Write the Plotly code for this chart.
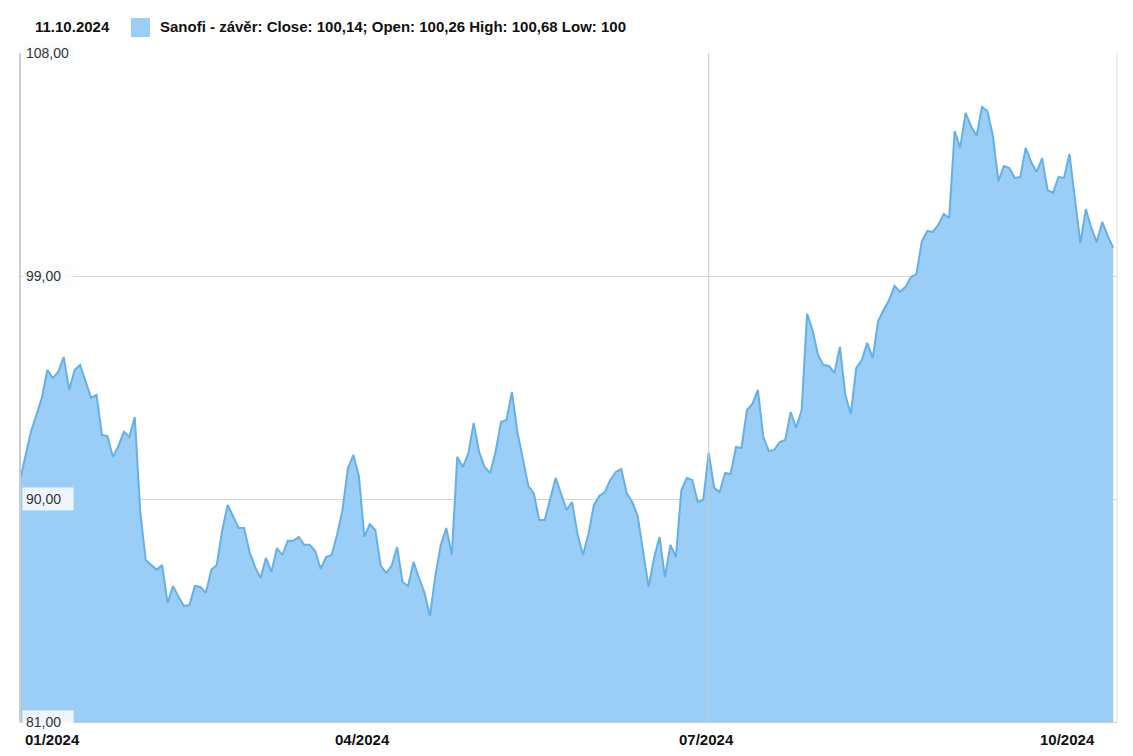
import pandas as pd
import plotly.graph_objects as go

# Trading days (Euronext Paris) 2 Jan 2024 - 11 Oct 2024
holidays = ["2024-01-01", "2024-03-29", "2024-04-01", "2024-05-01"]
dates = [d.strftime("%Y-%m-%d") for d in pd.bdate_range("2024-01-02", "2024-10-11")
         if d.strftime("%Y-%m-%d") not in holidays]

close = [
    90.77, 91.78, 92.71, 93.39, 94.08, 95.21, 94.88, 95.13, 95.73, 94.40,
    95.21, 95.41, 94.72, 94.08, 94.20, 92.58, 92.54, 91.70, 92.14, 92.71,
    92.50, 93.31, 89.48, 87.54, 87.34, 87.14, 87.34, 85.80, 86.49, 86.05,
    85.68, 85.72, 86.49, 86.45, 86.21, 87.14, 87.34, 88.75, 89.76, 89.32,
    88.83, 88.83, 87.86, 87.26, 86.81, 87.62, 87.06, 88.02, 87.74, 88.31,
    88.31, 88.47, 88.15, 88.15, 87.90, 87.18, 87.66, 87.74, 88.55, 89.56,
    91.25, 91.78, 90.93, 88.47, 88.99, 88.75, 87.30, 87.02, 87.30, 88.06,
    86.65, 86.49, 87.46, 86.81, 86.21, 85.28, 86.93, 88.15, 88.83, 87.74,
    91.70, 91.29, 91.82, 93.07, 91.90, 91.29, 91.05, 91.90, 93.11, 93.19,
    94.32, 92.71, 91.58, 90.53, 90.24, 89.15, 89.15, 90.04, 90.85, 90.20,
    89.56, 89.88, 88.59, 87.74, 88.59, 89.76, 90.12, 90.28, 90.77, 91.09,
    91.21, 90.24, 89.88, 89.32, 87.94, 86.45, 87.62, 88.47, 86.85, 88.15,
    87.66, 90.36, 90.85, 90.77, 89.88, 89.96, 91.86, 90.45, 90.28, 91.05,
    91.01, 92.10, 92.06, 93.59, 93.84, 94.40, 92.50, 91.94, 91.98, 92.30,
    92.38, 93.51, 92.87, 93.59, 97.47, 96.82, 95.81, 95.41, 95.37, 95.09,
    96.14, 94.20, 93.43, 95.29, 95.61, 96.30, 95.69, 97.18, 97.63, 98.03,
    98.60, 98.36, 98.56, 98.96, 99.08, 100.41, 100.82, 100.78, 101.06, 101.50,
    101.34, 104.85, 104.17, 105.58, 105.05, 104.65, 105.82, 105.66, 104.65, 102.83,
    103.44, 103.36, 102.96, 103.00, 104.17, 103.60, 103.20, 103.76, 102.47, 102.35,
    103.00, 102.96, 103.92, 102.19, 100.33, 101.70, 100.94, 100.37, 101.18, 100.62,
    100.14,
]
assert len(dates) == len(close), (len(dates), len(close))

y_ticks = [81, 90, 99, 108]
x_tick_dates = ["2024-01-02", "2024-04-02", "2024-07-01", "2024-10-01"]
x_tick_text = ["01/2024", "04/2024", "07/2024", "10/2024"]

header_date = "11.10.2024"
legend_text = "Sanofi - závěr: Close: 100,14; Open: 100,26 High: 100,68 Low: 100"

FILL = "rgb(154,206,246)"
LINE = "rgb(100,176,232)"

# page body has an 8px margin; plot area target: x 20..1117, y 53..722
OFF = 8
PL, PR, PT, PB = 20, 1117, 53, 722
W, H = 1133, 756
PW, PH = PR - PL, PB - PT


def px(x):
    return (x - PL) / PW


def py(y):
    return (PB - y) / PH


fig = go.Figure()
fig.add_trace(go.Scatter(
    x=dates, y=close, mode="lines", fill="tozeroy",
    fillcolor=FILL, line=dict(color=LINE, width=2), hoverinfo="skip",
    showlegend=False,
))

fig.update_layout(
    width=W, height=H,
    margin=dict(l=PL - OFF, r=W + OFF - PR, t=PT - OFF, b=H + OFF - PB),
    paper_bgcolor="white", plot_bgcolor="white",
    font=dict(family="Liberation Sans, Arial, sans-serif", color="#333"),
    xaxis=dict(type="category", range=[0, len(dates) - 1 + 0.7],
               showgrid=False, showticklabels=False, ticks="",
               showline=True, linecolor="#cccccc", linewidth=1, mirror=False,
               zeroline=False),
    yaxis=dict(range=[y_ticks[0], y_ticks[-1]], tickvals=y_ticks,
               showticklabels=False, showgrid=True, gridcolor="#d4d4d4",
               gridwidth=1, zeroline=False, showline=False),
    showlegend=False,
)

shapes = [
    dict(type="line", xref="paper", yref="paper", x0=0, x1=0, y0=0, y1=1,
         line=dict(color="#cccccc", width=2), layer="above"),
    dict(type="line", xref="paper", yref="paper", x0=1, x1=1, y0=0, y1=1,
         line=dict(color="#dddddd", width=1), layer="above"),
    dict(type="line", xref="x", yref="paper", x0=x_tick_dates[2], x1=x_tick_dates[2],
         y0=0, y1=1, line=dict(color="#c8c8c8", width=1), layer="above"),
    dict(type="rect", xref="paper", yref="paper",
         x0=px(131), x1=px(150), y0=py(37), y1=py(18),
         fillcolor=FILL, line=dict(width=0)),
]

annotations = []
for v in y_ticks:
    annotations.append(dict(
        x=0, xref="paper", y=v, yref="y", xanchor="left", yanchor="middle",
        xshift=2, text=f"{v:.2f}".replace(".", ","), showarrow=False,
        font=dict(size=14, color="#333"), bgcolor="rgba(250,252,254,0.88)",
        width=44, align="left", borderpad=3,
    ))
for i, (d, t) in enumerate(zip(x_tick_dates, x_tick_text)):
    annotations.append(dict(
        x=d, xref="x", y=0, yref="paper", xanchor="left" if i == 0 else "center",
        yanchor="top", yshift=-7, xshift=3 if i == 0 else -2,
        text=f"<b>{t}</b>", showarrow=False,
        font=dict(size=15, color="#111"),
    ))
annotations.append(dict(
    x=px(33), xref="paper", y=py(27), yref="paper",
    xanchor="left", yanchor="middle", text=f"<b>{header_date}</b>",
    showarrow=False, font=dict(size=15, color="#111"),
))
annotations.append(dict(
    x=px(158), xref="paper", y=py(27), yref="paper",
    xanchor="left", yanchor="middle", text=f"<b>{legend_text}</b>",
    showarrow=False, font=dict(size=15, color="#111"),
))

fig.update_layout(shapes=shapes, annotations=annotations)
fig.write_html("out.html")
